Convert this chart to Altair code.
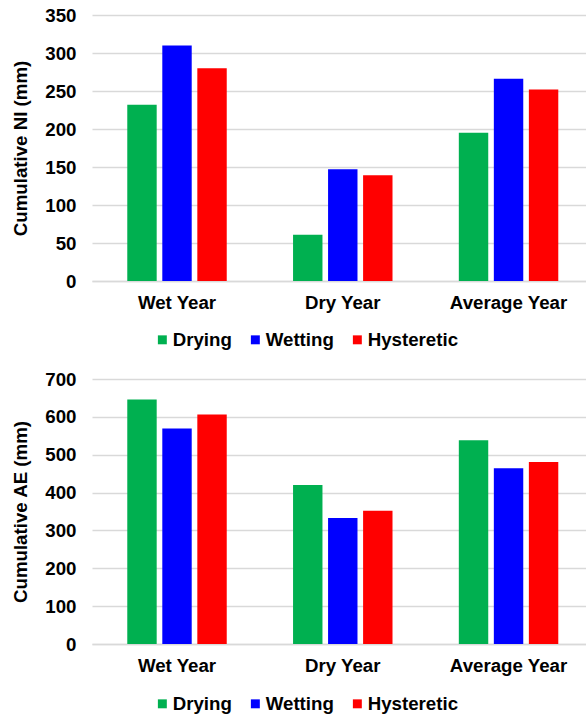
import altair as alt
import pandas as pd

years = ["Wet Year", "Dry Year", "Average Year"]
schemes = ["Drying", "Wetting", "Hysteretic"]
scheme_colors = ["#00B050", "#0000FF", "#FF0000"]

# Cumulative net infiltration (mm)
ni_drying = [232, 61, 195]
ni_wetting = [310, 147, 266]
ni_hysteretic = [280, 139, 252]

# Cumulative actual evaporation (mm)
ae_drying = [646, 420, 538]
ae_wetting = [569, 333, 464]
ae_hysteretic = [606, 352, 481]

FONT = "Liberation Sans"
FS = 18.7
GRID = "#D9D9D9"


def to_frame(drying, wetting, hysteretic):
    rows = []
    for series, vals in zip(schemes, [drying, wetting, hysteretic]):
        for yr, v in zip(years, vals):
            rows.append({"Year": yr, "Scheme": series, "Value": v})
    return pd.DataFrame(rows)


def panel(df, title, ymax, step, height):
    return (
        alt.Chart(df)
        .mark_bar()
        .encode(
            x=alt.X(
                "Year:N",
                sort=years,
                scale=alt.Scale(paddingInner=0.4, paddingOuter=0.19, align=0.56),
                axis=alt.Axis(
                    title=None,
                    labelAngle=0,
                    ticks=False,
                    domainColor=GRID,
                    domainWidth=1.3,
                    labelPadding=12,
                ),
            ),
            xOffset=alt.XOffset(
                "Scheme:N",
                sort=schemes,
                scale=alt.Scale(paddingInner=0.16, paddingOuter=0),
            ),
            y=alt.Y(
                "Value:Q",
                scale=alt.Scale(domain=[0, ymax], nice=False),
                axis=alt.Axis(
                    title=title,
                    values=list(range(0, ymax + 1, step)),
                    grid=True,
                    gridColor=GRID,
                    gridWidth=1.3,
                    domain=False,
                    ticks=False,
                    labelPadding=16,
                    titlePadding=14,
                ),
            ),
            color=alt.Color(
                "Scheme:N",
                sort=schemes,
                scale=alt.Scale(domain=schemes, range=scheme_colors),
                legend=alt.Legend(
                    title=None,
                    orient="none",
                    direction="horizontal",
                    legendX=61,
                    legendY=315,
                    symbolType="square",
                    symbolSize=80,
                    symbolStrokeWidth=0,
                    labelOffset=1,
                    columnPadding=14,
                ),
            ),
        )
        .properties(width=494, height=height)
    )


top = panel(to_frame(ni_drying, ni_wetting, ni_hysteretic), "Cumulative NI (mm)", 350, 50, 266)
bottom = panel(to_frame(ae_drying, ae_wetting, ae_hysteretic), "Cumulative AE (mm)", 700, 100, 265)

chart = (
    alt.vconcat(top, bottom, spacing=20)
    .resolve_legend(color="independent")
    .properties(padding={"left": 11, "top": 6, "right": 0, "bottom": 0})
    .configure_view(stroke=None)
    .configure_axis(
        labelFont=FONT,
        labelFontSize=FS,
        labelFontWeight="bold",
        labelColor="#000000",
        titleFont=FONT,
        titleFontSize=FS,
        titleFontWeight="bold",
        titleColor="#000000",
    )
    .configure_legend(
        labelFont=FONT,
        labelFontSize=FS,
        labelFontWeight="bold",
        labelColor="#000000",
    )
)

chart.save("out.html", embed_options={"renderer": "svg", "actions": False})
